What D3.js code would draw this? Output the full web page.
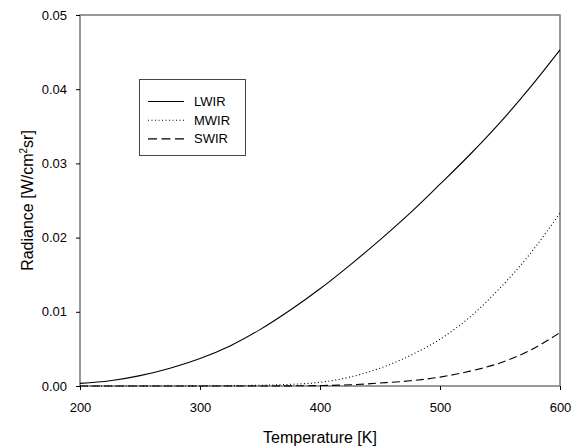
<!DOCTYPE html>
<html>
<head>
<meta charset="utf-8">
<script src="https://cdn.jsdelivr.net/npm/d3@7"></script>
<style>
  body { margin: 0; background: #fff; }
  text { font-family: "Liberation Sans", Arial, sans-serif; fill: #000; }
</style>
</head>
<body>
<svg id="chart" width="582" height="447"></svg>
<script>
// temperatures [K]
var temps = [200, 225, 250, 275, 300, 325, 350, 375, 400, 425, 450, 475, 500, 525, 550, 575, 600];
// radiance [W/cm^2 sr]
var lwir = [0.00036, 0.0007, 0.0014, 0.0024, 0.0037, 0.0054, 0.0076, 0.0102, 0.0131, 0.0163, 0.0197, 0.0233, 0.0272, 0.0312, 0.0355, 0.0402, 0.0453];
var mwir = [0.0, 0.0, 0.0, 0.0, 0.00002, 0.00005, 0.0001, 0.00022, 0.0005, 0.0012, 0.0024, 0.0041, 0.0063, 0.0093, 0.0132, 0.0178, 0.0233];
var swir = [0.0, 0.0, 0.0, 0.0, 0.0, 0.0, 0.0, 0.00002, 0.00006, 0.00016, 0.0004, 0.0007, 0.0012, 0.0020, 0.0031, 0.0048, 0.0072];

var xTicks = [200, 300, 400, 500, 600];
var yTicks = [0, 0.01, 0.02, 0.03, 0.04, 0.05];

var series = [
  {name: "LWIR", values: lwir, dash: null},
  {name: "MWIR", values: mwir, dash: "1,2.5"},
  {name: "SWIR", values: swir, dash: "8,4"}
];

var svg = d3.select("#chart");
var plotL = 80, plotR = 560, plotT = 15, plotB = 386;

var x = d3.scaleLinear().domain([200, 600]).range([plotL, plotR]);
var y = d3.scaleLinear().domain([0, 0.05]).range([plotB, plotT]);

// frame
svg.append("rect")
  .attr("x", plotL).attr("y", plotT)
  .attr("width", plotR - plotL).attr("height", plotB - plotT)
  .attr("fill", "none")
  .attr("stroke", "#777")
  .attr("stroke-width", 1.5);

var xAxis = svg.append("g")
  .attr("transform", "translate(0," + plotB + ")")
  .call(d3.axisBottom(x).tickValues(xTicks).tickSize(4).tickPadding(12.5).tickFormat(d3.format("d")));
var yAxis = svg.append("g")
  .attr("transform", "translate(" + plotL + ",0)")
  .call(d3.axisLeft(y).tickValues(yTicks).tickSize(4).tickPadding(9).tickFormat(d3.format(".2f")));

[xAxis, yAxis].forEach(function(g) {
  g.select(".domain").remove();
  g.selectAll(".tick line").attr("stroke", "#000");
  g.selectAll(".tick text").style("font-size", "13px").style("font-family", "Liberation Sans, Arial, sans-serif");
});

var line = d3.line()
  .x(function(d) { return x(d[0]); })
  .y(function(d) { return y(d[1]); })
  .curve(d3.curveMonotoneX);

series.forEach(function(s) {
  svg.append("path")
    .datum(temps.map(function(t, i) { return [t, s.values[i]]; }))
    .attr("d", line)
    .attr("fill", "none")
    .attr("stroke", "#000")
    .attr("stroke-width", 1.1)
    .attr("stroke-dasharray", s.dash);
});

// axis titles
svg.append("text")
  .attr("x", (plotL + plotR) / 2).attr("y", 443)
  .attr("text-anchor", "middle")
  .style("font-size", "16px")
  .text("Temperature [K]");

var yt = svg.append("text")
  .attr("transform", "translate(33," + (plotT + plotB) / 2 + ") rotate(-90)")
  .attr("text-anchor", "middle")
  .style("font-size", "16px");
yt.append("tspan").text("Radiance [W/cm");
yt.append("tspan").attr("dy", -6).style("font-size", "10px").text("2");
yt.append("tspan").attr("dy", 6).text("sr]");

// legend
var lg = svg.append("g");
lg.append("rect")
  .attr("x", 139.5).attr("y", 79.5)
  .attr("width", 106).attr("height", 76)
  .attr("fill", "#fff")
  .attr("stroke", "#444")
  .attr("stroke-width", 1);
series.forEach(function(s, i) {
  var ly = 101.5 + i * 18.7;
  lg.append("line")
    .attr("x1", 148).attr("x2", 184)
    .attr("y1", ly).attr("y2", ly)
    .attr("stroke", "#000")
    .attr("stroke-width", 1.1)
    .attr("stroke-dasharray", s.dash === "8,4" ? "9,4.5" : s.dash);
  lg.append("text")
    .attr("x", 194).attr("y", ly + 4.5)
    .style("font-size", "13px")
    .text(s.name);
});
</script>
</body>
</html>
